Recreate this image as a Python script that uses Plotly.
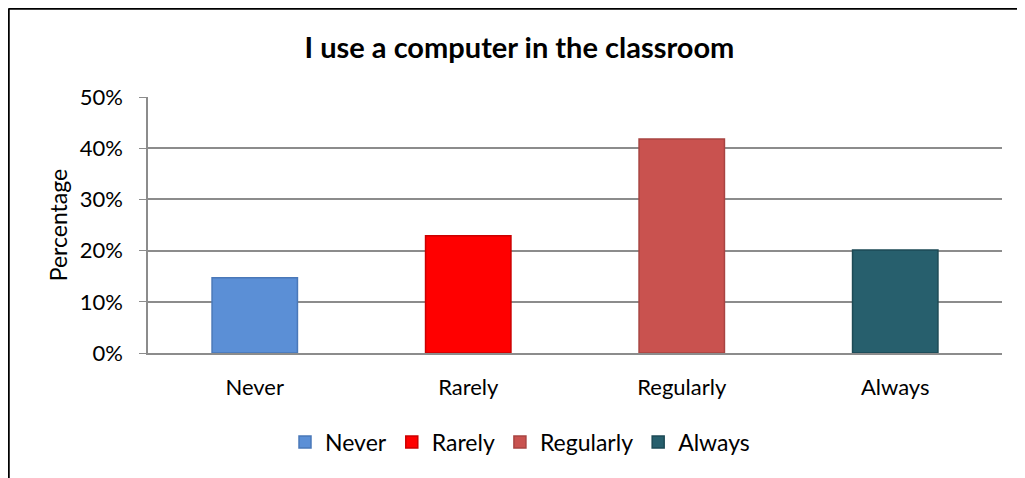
import plotly.graph_objects as go

categories = ["Never", "Rarely", "Regularly", "Always"]
values = [14.7, 22.9, 41.8, 20.1]
colors = ["#5B8FD6", "#FF0000", "#C9524F", "#275F6D"]
edge_colors = ["#4A78B8", "#CC0000", "#A84442", "#1D4A55"]

# the page body adds an 8px offset, so sizes are in figure pixels
W, H = 1025, 478
L, R, T, B = 140, 31, 89, 133


def px_x(x):
    return (x - L) / (W - L - R)


def px_y(y):
    return (H - B - y) / (H - T - B)


fig = go.Figure()
for cat, val, col, edge in zip(categories, values, colors, edge_colors):
    fig.add_trace(
        go.Bar(
            x=[cat],
            y=[val],
            name=cat,
            marker=dict(color=col, line=dict(color=edge, width=1.5)),
            width=0.4,
        )
    )

fig.update_layout(
    width=W,
    height=H,
    margin=dict(l=L, r=R, t=T, b=B),
    plot_bgcolor="white",
    paper_bgcolor="white",
    font=dict(family="Lato, Open Sans, sans-serif", size=22, color="black"),
    title=dict(
        text="<b>I use a computer in the classroom</b>",
        x=511.5 / W,
        xref="container",
        xanchor="center",
        y=1 - 40 / H,
        yanchor="middle",
        font=dict(size=29, color="black"),
    ),
    barmode="overlay",
    showlegend=True,
    legend=dict(
        orientation="h",
        x=px_x(512),
        xanchor="center",
        y=px_y(434),
        yanchor="middle",
        font=dict(size=23),
        itemwidth=30,
        traceorder="normal",
    ),
)

fig.update_yaxes(
    range=[0, 50],
    dtick=10,
    ticksuffix="%",
    showgrid=True,
    gridcolor="#8C8C8C",
    gridwidth=1.5,
    showline=True,
    linecolor="#8C8C8C",
    linewidth=1.5,
    ticks="outside",
    ticklen=7,
    tickcolor="#8C8C8C",
    ticklabelstandoff=12,
    zeroline=False,
    title=dict(text="Percentage", standoff=6, font=dict(size=23)),
)
fig.update_xaxes(
    showline=True,
    linecolor="#8C8C8C",
    linewidth=2,
    ticks="",
    ticklabelstandoff=14,
    showgrid=False,
)

# outer frame (top and left edges visible in the reference)
fig.add_shape(type="line", xref="paper", yref="paper",
              x0=px_x(0.5), x1=px_x(1030), y0=px_y(0.5), y1=px_y(0.5),
              line=dict(color="black", width=2.5))
fig.add_shape(type="line", xref="paper", yref="paper",
              x0=px_x(0.5), x1=px_x(0.5), y0=px_y(0.5), y1=px_y(480),
              line=dict(color="black", width=2.5))

fig.write_html("out.html")
